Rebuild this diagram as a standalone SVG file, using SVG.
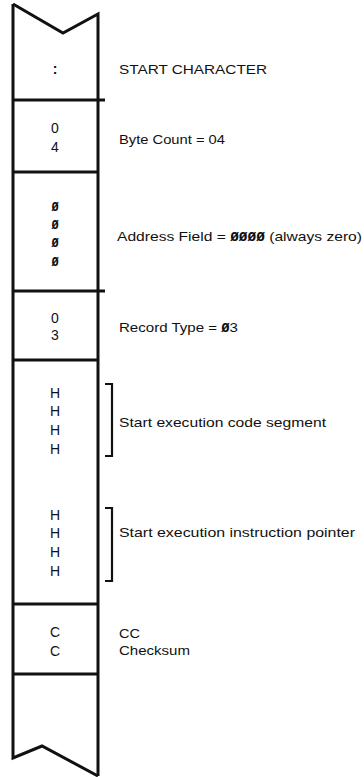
<svg xmlns="http://www.w3.org/2000/svg" width="364" height="777" viewBox="0 0 364 777">
<style>
.ln{fill:none;stroke:#111;stroke-width:3;stroke-linejoin:miter}
.dv{stroke:#111;stroke-width:3}
.br{fill:none;stroke:#111;stroke-width:2.2}
text{font-family:"Liberation Sans",Arial,sans-serif;font-size:13px;fill:#111}
.c{text-anchor:middle;font-size:14px}
.z{font-family:"DejaVu Sans Mono","Liberation Mono",monospace;font-weight:bold;font-size:12px}
.zr{font-family:"DejaVu Sans Mono","Liberation Mono",monospace;font-weight:bold;font-size:12px}
</style>
<rect width="364" height="777" fill="#fff"/>
<g id="connectors">
<path class="ln" d="M13,4 L63,33 L98,14 L98,776"/>
<path class="ln" d="M13,4 L13,758 L42,746 L98,776"/>
<line class="dv" x1="13" y1="100" x2="105" y2="100"/>
<line class="dv" x1="13" y1="172" x2="98" y2="172"/>
<line class="dv" x1="13" y1="291" x2="105" y2="291"/>
<line class="dv" x1="13" y1="360" x2="98" y2="360"/>
<line class="dv" x1="13" y1="604" x2="98" y2="604"/>
<line class="dv" x1="13" y1="674" x2="98" y2="674"/>
<path class="br" d="M105,384 H112 V456 H105"/>
<path class="br" d="M105,508 H112 V581 H105"/>
</g>
<g id="start">
<text class="c" x="55" y="74" font-weight="bold">:</text>
<text x="119" y="74" textLength="148" lengthAdjust="spacingAndGlyphs">START CHARACTER</text>
</g>
<g id="bytecount">
<text class="c" x="55" y="133">0</text>
<text class="c" x="55" y="152">4</text>
<text x="119" y="144" textLength="106" lengthAdjust="spacingAndGlyphs">Byte Count = 04</text>
</g>
<g id="address">
<text class="c z" x="55" y="211">Ø</text>
<text class="c z" x="55" y="229">Ø</text>
<text class="c z" x="55" y="247">Ø</text>
<text class="c z" x="55" y="266">Ø</text>
<text x="117" y="241" textLength="245" lengthAdjust="spacingAndGlyphs">Address Field = <tspan class="z">ØØØØ</tspan> (always zero)</text>
</g>
<g id="recordtype">
<text class="c" x="55" y="323">0</text>
<text class="c" x="55" y="340">3</text>
<text x="119" y="332" textLength="119" lengthAdjust="spacingAndGlyphs">Record Type = <tspan class="zr">Ø</tspan>3</text>
</g>
<g id="codesegment">
<text class="c" x="55" y="398">H</text>
<text class="c" x="55" y="416">H</text>
<text class="c" x="55" y="435">H</text>
<text class="c" x="55" y="454">H</text>
<text x="119" y="427" textLength="207" lengthAdjust="spacingAndGlyphs">Start execution code segment</text>
</g>
<g id="instructionpointer">
<text class="c" x="55" y="520">H</text>
<text class="c" x="55" y="538">H</text>
<text class="c" x="55" y="557">H</text>
<text class="c" x="55" y="576">H</text>
<text x="119" y="537" textLength="236" lengthAdjust="spacingAndGlyphs">Start execution instruction pointer</text>
</g>
<g id="checksum">
<text class="c" x="55" y="637">C</text>
<text class="c" x="55" y="656">C</text>
<text x="119" y="638" textLength="21" lengthAdjust="spacingAndGlyphs">CC</text>
<text x="119" y="655" textLength="71" lengthAdjust="spacingAndGlyphs">Checksum</text>
</g>
<g id="end"></g>
</svg>
